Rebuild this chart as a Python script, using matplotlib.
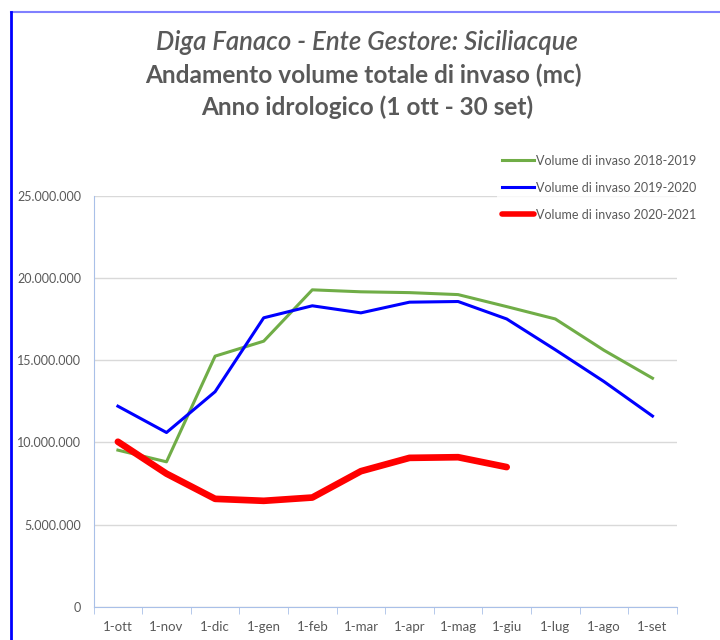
import matplotlib.pyplot as plt
from matplotlib.lines import Line2D
from matplotlib.ticker import FuncFormatter, MultipleLocator

# Mesi dell'anno idrologico
months = ["1-ott", "1-nov", "1-dic", "1-gen", "1-feb", "1-mar",
          "1-apr", "1-mag", "1-giu", "1-lug", "1-ago", "1-set"]

# Volumi di invaso (mc)
vol_2018_2019 = [9530000, 8820000, 15240000, 16150000, 19270000, 19150000,
                 19100000, 18980000, 18250000, 17500000, 15600000, 13900000]
vol_2019_2020 = [12200000, 10600000, 13080000, 17570000, 18300000, 17870000,
                 18520000, 18560000, 17500000, 15630000, 13700000, 11600000]
vol_2020_2021 = [10040000, 8100000, 6570000, 6450000, 6650000, 8250000,
                 9060000, 9100000, 8500000]

gray = "#595959"
plt.rcParams["font.family"] = ["Lato", "DejaVu Sans"]

fig = plt.figure(figsize=(7.2, 6.4), dpi=100)
ax = fig.add_axes([0.130, 0.0516, 0.810, 0.6429])

x = range(len(months))
ax.plot(x, vol_2018_2019, color="#70ad47", lw=2.2, label="Volume di invaso 2018-2019")
ax.plot(x, vol_2019_2020, color="#0000ff", lw=2.2, label="Volume di invaso 2019-2020")
ax.plot(range(len(vol_2020_2021)), vol_2020_2021, color="#ff0000", lw=4.8,
        solid_capstyle="round", label="Volume di invaso 2020-2021")

ax.set_xlim(-0.5, len(months) - 0.5)
ax.set_ylim(0, 25000000)
ax.yaxis.set_major_locator(MultipleLocator(5000000))
ax.yaxis.set_major_formatter(FuncFormatter(lambda v, p: f"{int(v):,}".replace(",", ".")))
ax.set_xticks(list(x))
ax.set_xticklabels(months)
ax.set_xticks([i - 0.5 for i in range(len(months) + 1)], minor=True)

ax.grid(axis="y", color="#d9d9d9", lw=1)
ax.set_axisbelow(True)
for s in ["top", "right"]:
    ax.spines[s].set_visible(False)
for s in ["left", "bottom"]:
    ax.spines[s].set_color("#a9c0e8")
ax.tick_params(axis="x", which="major", length=0, pad=10, labelsize=9.5, labelcolor=gray)
ax.tick_params(axis="x", which="minor", length=5, color="#a9c0e8")
ax.tick_params(axis="y", length=0, pad=9, labelsize=9, labelcolor=gray)

# Legenda in alto a destra
leg = fig.legend(loc="upper left", bbox_to_anchor=(0.69, 0.766), frameon=True,
                 fontsize=9, labelcolor=gray, handlelength=2.6, handletextpad=0.1,
                 labelspacing=1.2, borderaxespad=0)
leg.get_frame().set_edgecolor("none")
leg.get_frame().set_facecolor("white")
for h in leg.get_lines():
    h.set_linewidth(2.2)
leg.get_lines()[2].set_linewidth(4)

# Titolo
fig.text(0.51, 0.934, "Diga Fanaco - Ente Gestore: Siciliacque", ha="center", va="center",
         fontsize=18.5, style="italic", fontweight="semibold", color=gray)
fig.text(0.505, 0.882, "Andamento volume totale di invaso (mc)", ha="center", va="center",
         fontsize=17.6, fontweight="bold", color=gray)
fig.text(0.51, 0.833, "Anno idrologico (1 ott - 30 set)", ha="center", va="center",
         fontsize=17.6, fontweight="bold", color=gray)

# Bordo
fig.add_artist(Line2D([0.0146, 1.0], [0.981, 0.981], color="#8080ff", lw=1.5))
fig.add_artist(Line2D([0.0146, 0.0146], [0.0, 0.981], color="#0000ff", lw=2))

fig.savefig("out.png", dpi=100)
